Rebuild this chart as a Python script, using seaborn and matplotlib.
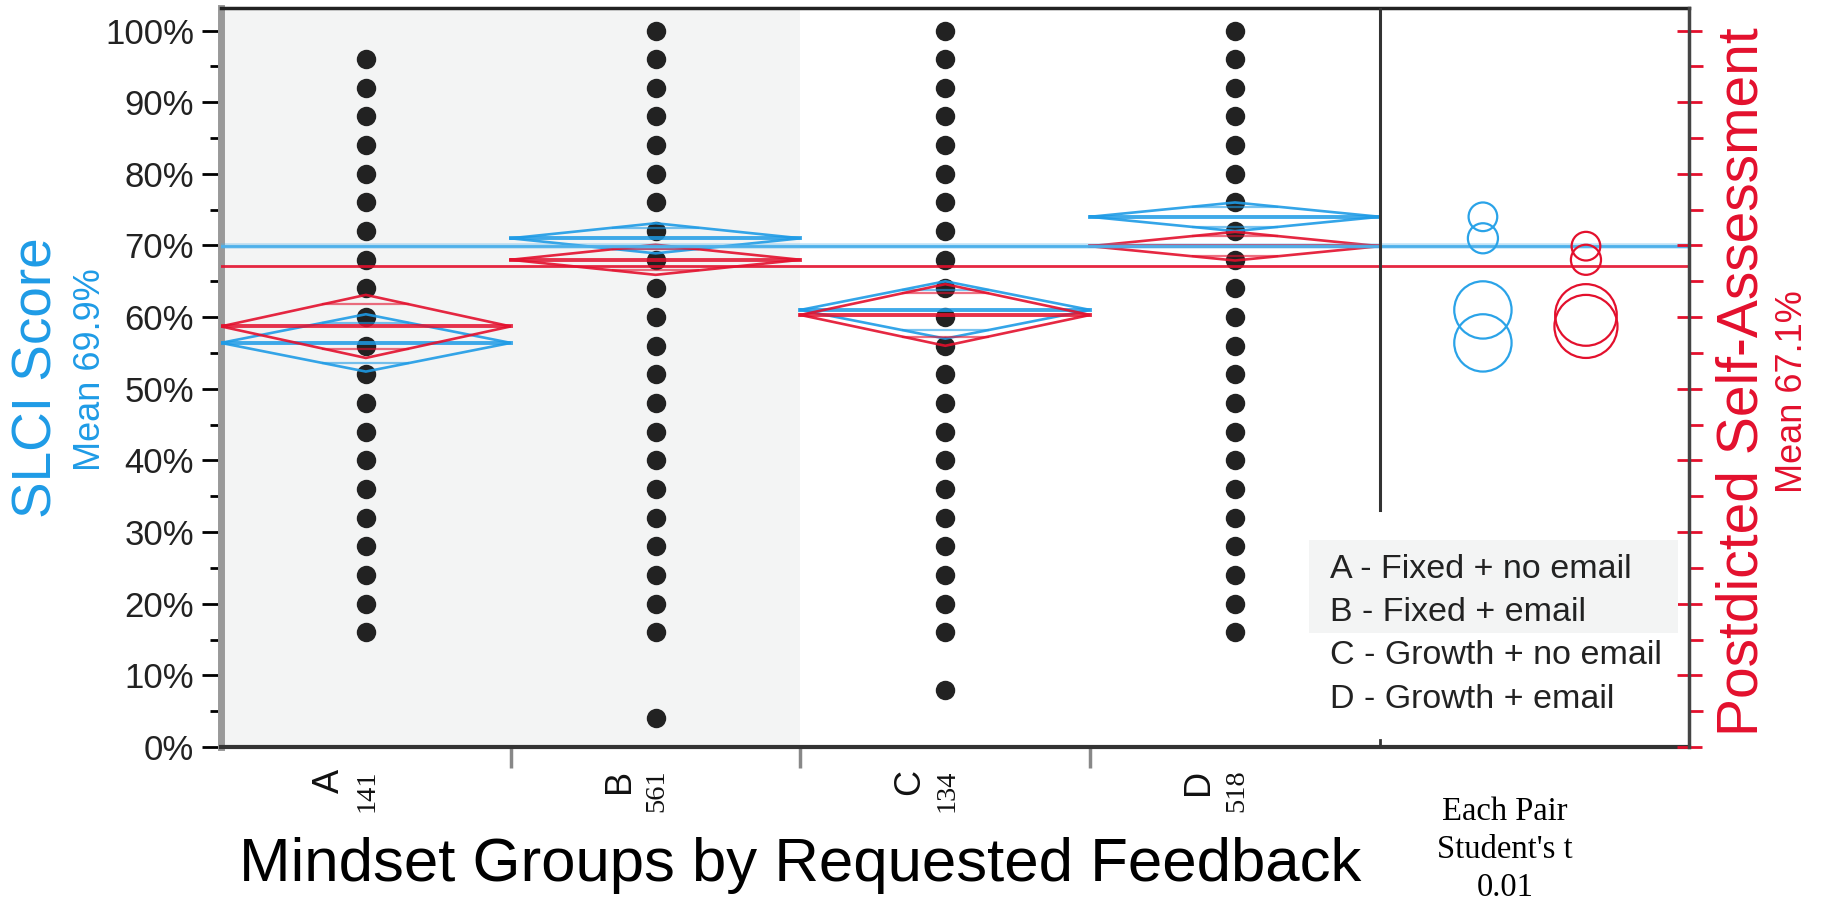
import numpy as np
import pandas as pd
import matplotlib
matplotlib.use("Agg")
import matplotlib.pyplot as plt
import seaborn as sns
from matplotlib.patches import Ellipse, Rectangle

# ============ Data ============
groups = ['A', 'B', 'C', 'D']
group_n = [141, 561, 134, 518]
group_desc = ['Fixed + no email', 'Fixed + email', 'Growth + no email', 'Growth + email']

scores_A = [96, 92, 88, 84, 80, 76, 72, 68, 64, 60, 56, 52, 48, 44, 40, 36, 32, 28, 24, 20, 16]
scores_B = [100, 96, 92, 88, 84, 80, 76, 72, 68, 64, 60, 56, 52, 48, 44, 40, 36, 32, 28, 24, 20, 16, 4]
scores_C = [100, 96, 92, 88, 84, 80, 76, 72, 68, 64, 60, 56, 52, 48, 44, 40, 36, 32, 28, 24, 20, 16, 8]
scores_D = [100, 96, 92, 88, 84, 80, 76, 72, 68, 64, 60, 56, 52, 48, 44, 40, 36, 32, 28, 24, 20, 16]

# group means and 95% CI half-widths (mean diamonds / comparison circles)
slci_mean = [56.4, 71.0, 61.0, 74.0]
slci_ci = [4.0, 2.1, 4.0, 2.0]
post_mean = [58.7, 68.0, 60.3, 69.9]
post_ci = [4.4, 2.1, 4.3, 2.0]
slci_grand = 69.9
post_grand = 67.1

# ============ Style ============
BLUE = '#1E9BE6'
BLUE_LINE = '#4DB0EA'
RED = '#E3102D'
DOT = '#222222'
SHADE = '#F3F4F4'
SANS = ['Liberation Sans', 'DejaVu Sans']
SERIF = ['Liberation Serif', 'DejaVu Serif']
plt.rcParams['font.family'] = SANS

W, H = 1822, 900
def fx(x):
    return x / W
def fy(y):
    return 1 - y / H

YMAX = 103.1
XMIN, XMAX = -0.5, 4.567

fig = plt.figure(figsize=(W / 100, H / 100), dpi=100)
ax = fig.add_axes([fx(221), fy(747), (1689 - 221) / W, (747 - 8.3) / H])

# ============ Points ============
df = pd.DataFrame({
    'group': ['A'] * len(scores_A) + ['B'] * len(scores_B) + ['C'] * len(scores_C) + ['D'] * len(scores_D),
    'score': scores_A + scores_B + scores_C + scores_D,
})
ax.axvspan(-0.5, 1.5, color=SHADE, zorder=0, lw=0)
sns.stripplot(data=df, x='group', y='score', order=groups, jitter=False, color=DOT,
              size=14, linewidth=0, ax=ax, zorder=2)

# ============ Means diamonds ============
def diamond(i, m, h, color):
    xs = [i - 0.5, i, i + 0.5, i, i - 0.5]
    ys = [m, m + h, m, m - h, m]
    ax.plot(xs, ys, color=color, lw=1.9, alpha=0.9, zorder=3, solid_joinstyle='miter')
    ax.plot([i - 0.5, i + 0.5], [m, m], color=color, lw=2.8, alpha=0.85, zorder=3)
    k = h / np.sqrt(2)
    hw = 0.5 * (1 - 1 / np.sqrt(2))
    for s in (1, -1):
        ax.plot([i - hw, i + hw], [m + s * k, m + s * k], color=color, lw=1.6, alpha=0.6, zorder=3)

for i in range(len(groups)):
    diamond(i, slci_mean[i], slci_ci[i], BLUE)
    diamond(i, post_mean[i], post_ci[i], RED)

ax.axhline(slci_grand, color=BLUE_LINE, lw=4, alpha=0.35, zorder=3)
ax.axhline(slci_grand, color=BLUE_LINE, lw=2, zorder=3)
ax.axhline(post_grand, color=RED, lw=2, alpha=0.9, zorder=3)

# ============ Comparison circles ============
ax.set_xlim(XMIN, XMAX)
ax.set_ylim(0, YMAX)
sx = (1689 - 221) / (XMAX - XMIN)
sy = (747 - 8.3) / YMAX
cx_blue = 3.5 + (XMAX - 3.5) / 3
cx_red = 3.5 + 2 * (XMAX - 3.5) / 3
for m, r in zip(slci_mean, slci_ci):
    ax.add_patch(Ellipse((cx_blue, m), 2 * r * sy / sx, 2 * r, fill=False,
                         ec='#2AA3E8', lw=1.6, zorder=3))
for m, r in zip(post_mean, post_ci):
    ax.add_patch(Ellipse((cx_red, m), 2 * r * sy / sx, 2 * r, fill=False,
                         ec=RED, lw=1.6, zorder=3))

# panel separator
ax.axvline(3.5, ymin=33.1 / YMAX, ymax=1, color='#333333', lw=2.2, zorder=4)
ax.axvline(3.5, ymin=0, ymax=0.01, color='#333333', lw=2, zorder=4)

# ============ Axes styling ============
ax.set_xlabel('')
ax.set_ylabel('')
ax.set_yticks(np.arange(0, 101, 10))
ax.set_yticklabels([f'{v}%' for v in range(0, 101, 10)])
ax.set_yticks(np.arange(5, 100, 10), minor=True)
ax.tick_params(axis='y', which='major', length=13.5, width=2, color='black',
               labelsize=25, pad=6, labelcolor='#222222')
ax.tick_params(axis='y', which='minor', length=8, width=2, color='black')
ax.set_xticks([0.5, 1.5, 2.5])
ax.set_xticklabels([])
ax.tick_params(axis='x', which='major', length=15, width=2.5, color='#888888')
ax.spines['left'].set_color('#999999')
ax.spines['left'].set_linewidth(5)
ax.spines['top'].set_color('#222222')
ax.spines['top'].set_linewidth(2.5)
ax.spines['bottom'].set_color('#333333')
ax.spines['bottom'].set_linewidth(3)
ax.spines['right'].set_visible(False)
ax.set_facecolor('white')

ax2 = ax.twinx()
ax2.set_ylim(0, YMAX)
ax2.set_yticks(np.arange(0, 101, 10))
ax2.set_yticks(np.arange(5, 100, 10), minor=True)
ax2.set_yticklabels([])
ax2.tick_params(axis='y', which='major', direction='inout', length=18, width=2, color=RED)
ax2.tick_params(axis='y', which='minor', direction='out', length=10, width=2, color=RED)
for s in ['left', 'top', 'bottom']:
    ax2.spines[s].set_visible(False)
ax2.spines['right'].set_color('#444444')
ax2.spines['right'].set_linewidth(2.5)

# group tick labels: letter + n
for i, (g, n) in enumerate(zip(groups, group_n)):
    ax.annotate(g, xy=(i, 0), xycoords=('data', 'axes fraction'), xytext=(-26, -16),
                textcoords='offset points', rotation=90, ha='center', va='top',
                fontsize=26, color='#111111')
    ax.annotate(str(n), xy=(i, 0), xycoords=('data', 'axes fraction'), xytext=(1, -16),
                textcoords='offset points', rotation=90, ha='center', va='top',
                fontsize=20.5, family=SERIF, color='#111111')

# ============ Titles / labels ============
fig.text(fx(38), fy(378), 'SLCI Score', rotation=90, ha='center', va='center',
         fontsize=39.5, color=BLUE)
fig.text(fx(90), fy(370), f'Mean {slci_grand}%', rotation=90, ha='center', va='center',
         fontsize=26, color=BLUE)
fig.text(fx(1742), fy(382), 'Postdicted Self-Assessment', rotation=90, ha='center', va='center',
         fontsize=41, color=RED)
fig.text(fx(1792), fy(392), f'Mean {post_grand}%', rotation=90, ha='center', va='center',
         fontsize=26, color=RED)
fig.text(fx(800), fy(866), 'Mindset Groups by Requested Feedback', ha='center', va='center',
         fontsize=44.5, color='black')
for yy, t in zip([812, 850, 888], ["Each Pair", "Student's t", "0.01"]):
    fig.text(fx(1505), fy(yy), t, ha='center', va='center', fontsize=23.5, family=SERIF, color='black')

# ============ Group key ============
fig.add_artist(Rectangle((fx(1309), fy(633)), (1678 - 1309) / W, (633 - 540) / H,
                         transform=fig.transFigure, color=SHADE, lw=0, zorder=5))
for k, (g, d) in enumerate(zip(groups, group_desc)):
    fig.text(fx(1330), fy(569 + 43.5 * k), f'{g} - {d}', ha='left', va='center',
             fontsize=24.5, color='#222222', zorder=6)

fig.savefig('out.png', dpi=100)
